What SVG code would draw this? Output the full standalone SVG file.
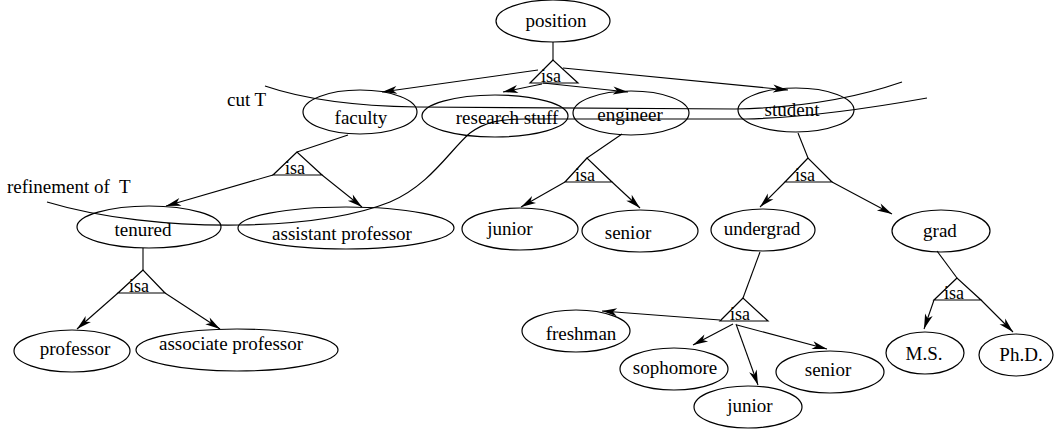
<svg xmlns="http://www.w3.org/2000/svg" width="1055" height="435" viewBox="0 0 1055 435">
  <style>
    .node ellipse { fill: none; stroke: #000; stroke-width: 1.2; }
    text { font-family: "Liberation Serif", "Times New Roman", serif; font-size: 19px; fill: #000; }
    .lbl { text-anchor: middle; }
    .isa { font-size: 18px; text-anchor: middle; }
    .tri { fill: none; stroke: #000; stroke-width: 1.2; }
    .edge { fill: none; stroke: #000; stroke-width: 1.1; }
    .arr { marker-end: url(#head); }
    .cut { fill: none; stroke: #000; stroke-width: 1.2; }
  </style>
  <defs>
    <marker id="head" markerUnits="userSpaceOnUse" markerWidth="20" markerHeight="12" viewBox="-16 -6 17 12" refX="0" refY="0" orient="auto">
      <path d="M0,0 L-15,-4 L-11,0 L-15,4 Z" fill="#000"/>
    </marker>
  </defs>

  <!-- cut curves -->
  <g id="cuts">
    <path class="cut" d="M265,86 C300,98 350,106 417,107 L735,109 C790,108 850,100 902,82"/>
    <path class="cut" d="M47,202 C100,218 170,226 240,225 C300,224 350,218 390,202 C430,185 450,150 470,133 C485,122 500,119 525,119 L745,119 C800,118 860,110 927,98"/>
    <text x="227" y="106">cut T</text>
    <text x="7" y="193" xml:space="preserve">refinement of  T</text>
  </g>

  <!-- isa triangles -->
  <g id="isa-position">
    <polygon class="tri" points="553,60 530,83 578,83"/>
    <text class="isa" x="551" y="82">isa</text>
  </g>
  <g id="isa-faculty">
    <polygon class="tri" points="297,152 273,175 322,175"/>
    <text class="isa" x="295" y="174">isa</text>
  </g>
  <g id="isa-tenured">
    <polygon class="tri" points="143,270 118,293 165,293"/>
    <text class="isa" x="139" y="292">isa</text>
  </g>
  <g id="isa-engineer">
    <polygon class="tri" points="587,158 565,182 612,182"/>
    <text class="isa" x="585" y="181">isa</text>
  </g>
  <g id="isa-student">
    <polygon class="tri" points="808,158 785,182 832,182"/>
    <text class="isa" x="805" y="181">isa</text>
  </g>
  <g id="isa-grad">
    <polygon class="tri" points="957,278 934,300 981,300"/>
    <text class="isa" x="954" y="299">isa</text>
  </g>
  <g id="isa-undergrad">
    <polygon class="tri" points="743,298 720,321 768,321"/>
    <text class="isa" x="740" y="320">isa</text>
  </g>

  <!-- connectors -->
  <g id="connectors">
    <line class="edge" x1="553" y1="42" x2="553" y2="60"/>
    <line class="edge arr" x1="538" y1="70" x2="382" y2="92"/>
    <line class="edge arr" x1="542" y1="84" x2="503" y2="92"/>
    <line class="edge arr" x1="543" y1="83" x2="628" y2="92"/>
    <line class="edge arr" x1="563" y1="68" x2="788" y2="90"/>

    <line class="edge" x1="348" y1="135" x2="297" y2="152"/>
    <line class="edge arr" x1="273" y1="175" x2="166" y2="206"/>
    <line class="edge arr" x1="322" y1="175" x2="362" y2="207"/>

    <line class="edge" x1="143" y1="248" x2="143" y2="270"/>
    <line class="edge arr" x1="118" y1="293" x2="77" y2="329"/>
    <line class="edge arr" x1="165" y1="293" x2="220" y2="329"/>

    <line class="edge" x1="622" y1="134" x2="587" y2="158"/>
    <line class="edge arr" x1="565" y1="182" x2="521" y2="207"/>
    <line class="edge arr" x1="612" y1="182" x2="640" y2="208"/>

    <line class="edge" x1="798" y1="133" x2="808" y2="158"/>
    <line class="edge arr" x1="785" y1="182" x2="760" y2="207"/>
    <line class="edge arr" x1="832" y1="182" x2="892" y2="214"/>

    <line class="edge" x1="937" y1="251" x2="957" y2="278"/>
    <line class="edge arr" x1="934" y1="300" x2="924" y2="329"/>
    <line class="edge arr" x1="981" y1="300" x2="1013" y2="332"/>

    <line class="edge" x1="760" y1="252" x2="743" y2="298"/>
    <line class="edge arr" x1="720" y1="320" x2="602" y2="311"/>
    <line class="edge arr" x1="733" y1="324" x2="693" y2="345"/>
    <line class="edge arr" x1="736" y1="324" x2="758" y2="385"/>
    <line class="edge arr" x1="737" y1="325" x2="827" y2="349"/>
  </g>

  <!-- nodes -->
  <g id="position" class="node">
    <ellipse cx="553" cy="21" rx="57" ry="21"/>
    <text class="lbl" x="556" y="27">position</text>
  </g>
  <g id="faculty" class="node">
    <ellipse cx="360" cy="112" rx="57" ry="22"/>
    <text class="lbl" x="361" y="124">faculty</text>
  </g>
  <g id="research-stuff" class="node">
    <ellipse cx="495" cy="116" rx="73" ry="21"/>
    <text class="lbl" x="507" y="124">research stuff</text>
  </g>
  <g id="engineer" class="node">
    <ellipse cx="631" cy="113" rx="58" ry="22"/>
    <text class="lbl" x="630" y="121">engineer</text>
  </g>
  <g id="student" class="node">
    <ellipse cx="796" cy="110" rx="58" ry="22"/>
    <text class="lbl" x="792" y="116">student</text>
  </g>
  <g id="tenured" class="node">
    <ellipse cx="149" cy="227" rx="72" ry="21"/>
    <text class="lbl" x="143" y="236">tenured</text>
  </g>
  <g id="assistant-professor" class="node">
    <ellipse cx="346" cy="228" rx="108" ry="21"/>
    <text class="lbl" x="342" y="240">assistant professor</text>
  </g>
  <g id="professor" class="node">
    <ellipse cx="72" cy="351" rx="58" ry="21"/>
    <text class="lbl" x="75" y="355">professor</text>
  </g>
  <g id="associate-professor" class="node">
    <ellipse cx="237" cy="350" rx="101" ry="21"/>
    <text class="lbl" x="231" y="350">associate professor</text>
  </g>
  <g id="eng-junior" class="node">
    <ellipse cx="520" cy="229" rx="58" ry="21"/>
    <text class="lbl" x="510" y="235">junior</text>
  </g>
  <g id="eng-senior" class="node">
    <ellipse cx="640" cy="231" rx="58" ry="21"/>
    <text class="lbl" x="628" y="239">senior</text>
  </g>
  <g id="undergrad" class="node">
    <ellipse cx="763" cy="230" rx="52" ry="21"/>
    <text class="lbl" x="762" y="235">undergrad</text>
  </g>
  <g id="grad" class="node">
    <ellipse cx="941" cy="231" rx="49" ry="21"/>
    <text class="lbl" x="940" y="237">grad</text>
  </g>
  <g id="ms" class="node">
    <ellipse cx="925" cy="353" rx="39" ry="21"/>
    <text class="lbl" x="924" y="360">M.S.</text>
  </g>
  <g id="phd" class="node">
    <ellipse cx="1016" cy="355" rx="37" ry="21"/>
    <text class="lbl" x="1021" y="361">Ph.D.</text>
  </g>
  <g id="freshman" class="node">
    <ellipse cx="576" cy="331" rx="54" ry="21"/>
    <text class="lbl" x="581" y="340">freshman</text>
  </g>
  <g id="sophomore" class="node">
    <ellipse cx="674" cy="369" rx="54" ry="21"/>
    <text class="lbl" x="675" y="374">sophomore</text>
  </g>
  <g id="ug-junior" class="node">
    <ellipse cx="748" cy="407" rx="54" ry="21"/>
    <text class="lbl" x="750" y="412">junior</text>
  </g>
  <g id="ug-senior" class="node">
    <ellipse cx="830" cy="372" rx="54" ry="21"/>
    <text class="lbl" x="828" y="376">senior</text>
  </g>
</svg>
